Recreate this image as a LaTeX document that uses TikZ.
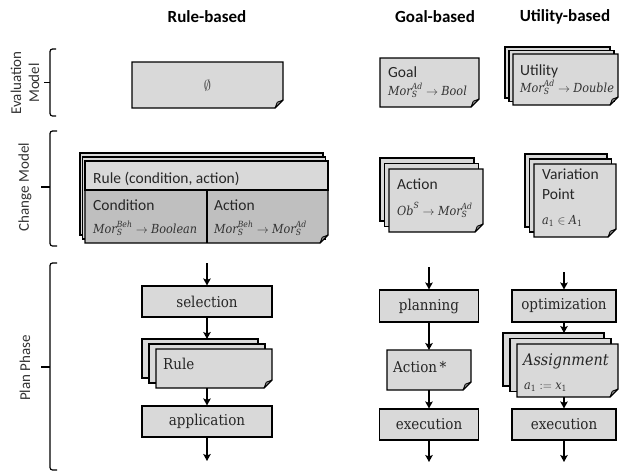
\documentclass[tikz,border=0pt]{standalone}
\usepackage{fontspec}
\newfontfamily\carl{Carlito}
\newfontfamily\dser{DejaVu Serif Condensed}
\usetikzlibrary{calc,arrows.meta}
\pgfdeclarelayer{bg}
\pgfsetlayers{bg,main}
\definecolor{lgray}{HTML}{D9D9D9}
\definecolor{dgray}{HTML}{BFBFBF}
\definecolor{foldgray}{HTML}{8C8C8C}
\newcommand\mt[1]{\mbox{\dser\itshape #1}}
\newcommand\ms[1]{\mbox{\dser\itshape\fontsize{8.5}{10}\selectfont #1}}
\newcommand\md[1]{\mbox{\dser\fontsize{8.5}{10}\selectfont #1}}
\tikzset{
  box/.style={rectangle, inner sep=0pt, outer sep=0pt, anchor=north west, draw=none},
  cardline/.style={draw=black, line width=1.1pt, fill=lgray, line join=miter},
  fold/.style={draw=black, line width=0.8pt, fill=foldgray, line join=round},
  proc/.style={rectangle, draw=black, line width=1.1pt, fill=lgray, inner sep=0pt,
    font=\dser\fontsize{15}{18}\selectfont, text=black!85},
  head/.style={font=\carl\bfseries\fontsize{17}{20}\selectfont},
  ttl/.style={font=\carl\fontsize{15.5}{19}\selectfont, inner sep=0pt, anchor=base west, text=black!85},
  srf/.style={font=\dser\fontsize{15}{18}\selectfont, inner sep=0pt, anchor=base west, text=black!85},
  frm/.style={font=\dser\fontsize{12.5}{15}\selectfont, inner sep=0pt, anchor=base west, text=black!80},
  side/.style={font=\carl\fontsize{15}{18}\selectfont, text=black!80, rotate=90, align=center, inner sep=0pt},
  brk/.style={draw=black, line width=1.2pt},
  arr/.style={draw=black, line width=1.2pt, -{Stealth[length=7pt,width=7.5pt,inset=1.5pt]}}
}
\newcommand\backcards[3]{%
  \begin{pgfonlayer}{bg}
  \foreach \k in {2,1}{
    \draw[cardline] ($(#1.north west)-(\k*#2,\k*#3)$) rectangle ($(#1.south east)-(\k*#2,\k*#3)$);
  }
  \end{pgfonlayer}}
\newcommand\dogear[3]{%
  \begin{pgfonlayer}{bg}
  \draw[cardline, fill=#3] (#1.north west) -- (#1.north east) -- ($(#1.south east)+(0,-#2)$)
     -- ($(#1.south east)+(-#2,0)$) -- (#1.south west) -- cycle;
  \draw[fold] ($(#1.south east)+(0,-#2)$) -- ($(#1.south east)+(-#2,0)$)
     -- ($(#1.south east)+(-0.72*#2,-0.72*#2)$) -- cycle;
  \end{pgfonlayer}}
\begin{document}
\begin{tikzpicture}[x=1pt,y=-1pt]
\useasboundingbox (0,0) rectangle (621,472);

% headings
\node[head] (hrule) at (207,17) {Rule-based};
\node[head] (hgoal) at (435,17) {Goal-based};
\node[head] (hutil) at (565,17) {Utility-based};

% side brackets
\draw[brk, rounded corners=2.5pt] (56,49) -- (50,49) -- (50,116) -- (56,116);
\draw[brk] (44,82.5) -- (50,82.5);
\node[side] (lev) at (25,83) {Evaluation\\Model};
\draw[brk, rounded corners=2.5pt] (57,131) -- (50,131) -- (50,246) -- (57,246);
\draw[brk] (41,187) -- (50,187);
\node[side] (lch) at (25,187) {Change Model};
\draw[brk, rounded corners=2.5pt] (57,263) -- (50,263) -- (50,470) -- (57,470);
\draw[brk] (41,367) -- (50,367);
\node[side] (lpl) at (25,368) {Plan Phase};

% ---- Evaluation model row
\node[box, minimum width=151pt, minimum height=46pt] (ev) at (132,62) {};
\dogear{ev}{8}{lgray}
\node[font=\fontsize{15}{18}\selectfont, text=black!75] (evt) at (ev.center) {$\emptyset$};

\node[box, minimum width=99pt, minimum height=49pt] (goal) at (380,58) {};
\dogear{goal}{8}{lgray}
\node[ttl] (goalT) at (388,77) {Goal};
\node[frm] (goalF) at (388,95) {$\mt{Mor}_{\ms{S}}^{\ms{Ad}} \rightarrow \mt{Bool}$};

\node[box, minimum width=105pt, minimum height=51pt] (util) at (513,54) {};
\backcards{util}{4}{3.5}
\dogear{util}{8}{lgray}
\node[ttl] (utilT) at (520,75) {Utility};
\node[frm] (utilF) at (520,92) {$\mt{Mor}_{\ms{S}}^{\ms{Ad}} \rightarrow \mt{Double}$};

% ---- Change model row
\node[box, minimum width=243pt, minimum height=82pt] (rc) at (85,161) {};
\node[box, minimum width=243pt, minimum height=29pt] (rch) at (85,161) {};
\node[box, minimum width=122pt, minimum height=53pt] (rcc) at (85,190) {};
\node[box, minimum width=121pt, minimum height=53pt] (rca) at (207,190) {};
\backcards{rc}{2.5}{4}
\dogear{rc}{8}{dgray}
\begin{pgfonlayer}{bg}
\draw[cardline] (rch.north west) rectangle (rch.south east);
\draw[line width=1.1pt] (rca.north west) -- (rca.south west);
\end{pgfonlayer}
\node[ttl] (rchT) at (93,183) {Rule (condition, action)};
\node[ttl] (rccT) at (93,210) {Condition};
\node[frm] (rccF) at (93,233) {$\mt{Mor}_{\ms{S}}^{\ms{Beh}} \rightarrow \mt{Boolean}$};
\node[ttl] (rcaT) at (214,210) {Action};
\node[frm] (rcaF) at (214,233) {$\mt{Mor}_{\ms{S}}^{\ms{Beh}} \rightarrow \mt{Mor}_{\ms{S}}^{\ms{Ad}}$};

\node[box, minimum width=94pt, minimum height=63pt] (gact) at (389,169) {};
\backcards{gact}{4.5}{5.5}
\dogear{gact}{8}{lgray}
\node[ttl] (gactT) at (397,189) {Action};
\node[frm] (gactF) at (397,215) {$\mt{Ob}^{\ms{S}} \rightarrow \mt{Mor}_{\ms{S}}^{\ms{Ad}}$};

\node[box, minimum width=82pt, minimum height=73pt] (vp) at (534,164) {};
\backcards{vp}{4.5}{5}
\dogear{vp}{8}{lgray}
\node[ttl] (vpT1) at (542,179) {Variation};
\node[ttl] (vpT2) at (542,199) {Point};
\node[frm] (vpF) at (542,224) {$\mt{a}_{\md{1}} \in \mt{A}_{\md{1}}$};

% ---- Plan phase: rule-based
\node[proc, minimum width=130pt, minimum height=31pt] (sel) at (207,301.5) {selection};
\node[box, minimum width=116pt, minimum height=39pt] (pr) at (156,349) {};
\backcards{pr}{7}{5}
\dogear{pr}{8}{lgray}
\node[srf] (prT) at (163,369) {Rule};
\coordinate (prtop) at ($(pr.north west)-(14,10)$);
\node[proc, minimum width=130pt, minimum height=31pt] (app) at (207,421.5) {application};
\coordinate (r0) at (207,263);
\coordinate (r1) at (207,461);
\draw[arr] (r0) -- (sel.north);
\draw[arr] (sel.south) -- (sel.south |- prtop);
\draw[arr] (app.north |- pr.south) -- (app.north);
\draw[arr] (app.south) -- (r1);

% ---- Plan phase: goal-based
\node[proc, minimum width=99pt, minimum height=32pt] (plan) at (429,306) {planning};
\node[box, minimum width=84pt, minimum height=40pt] (ast) at (387,350) {};
\dogear{ast}{8}{lgray}
\node[srf] (astT) at (393,372) {Action\,*};
\node[proc, minimum width=99pt, minimum height=31pt] (ex1) at (429,424.5) {execution};
\coordinate (g0) at (429,267);
\coordinate (g1) at (429,462);
\draw[arr] (g0) -- (plan.north);
\draw[arr] (plan.south) -- (plan.south |- ast.north);
\draw[arr] (ex1.north |- ast.south) -- (ex1.north);
\draw[arr] (ex1.south) -- (g1);

% ---- Plan phase: utility-based
\node[proc, minimum width=104pt, minimum height=32pt] (opt) at (564,306) {optimization};
\node[box, minimum width=101pt, minimum height=53pt] (as) at (517,344) {};
\backcards{as}{7}{5.5}
\dogear{as}{8}{lgray}
\node[srf, font=\dser\itshape\fontsize{16}{19}\selectfont] (asT) at (523,365) {Assignment};
\node[frm] (asF) at (524,389) {$\mt{a}_{\md{1}} \mathrel{:=} \mt{x}_{\md{1}}$};
\coordinate (astop) at ($(as.north west)-(14,11)$);
\node[proc, minimum width=104pt, minimum height=31pt] (ex2) at (564,424.5) {execution};
\coordinate (u0) at (564,272);
\coordinate (u1) at (564,462);
\draw[arr] (u0) -- (opt.north);
\draw[arr] (opt.south) -- (opt.south |- astop);
\draw[arr] (ex2.north |- as.south) -- (ex2.north);
\draw[arr] (ex2.south) -- (u1);
\end{tikzpicture}
\end{document}
